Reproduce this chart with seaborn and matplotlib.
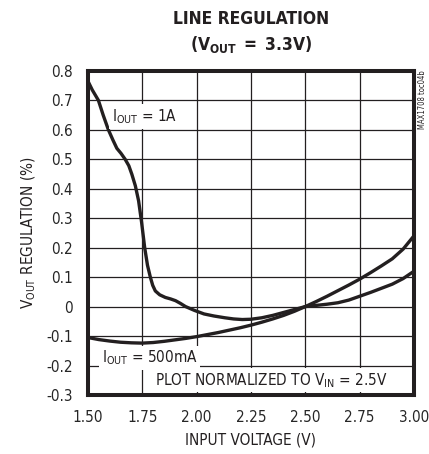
import pandas as pd
import seaborn as sns
import matplotlib.pyplot as plt

# input voltage (V) and output regulation (%)
vin_1a = [1.50, 1.52, 1.548, 1.57, 1.594, 1.615, 1.633, 1.652, 1.671, 1.688, 1.702,
          1.718, 1.733, 1.747, 1.761, 1.774, 1.787, 1.798, 1.81, 1.83, 1.856, 1.88,
          1.903, 1.925, 1.949, 1.99, 2.034, 2.08, 2.13, 2.17, 2.21, 2.25, 2.30,
          2.35, 2.40, 2.45, 2.50, 2.55, 2.60, 2.65, 2.70, 2.75, 2.80, 2.85, 2.90,
          2.95, 3.00]
reg_1a = [0.765, 0.735, 0.70, 0.65, 0.60, 0.565, 0.537, 0.52, 0.50, 0.478, 0.449,
          0.41, 0.359, 0.285, 0.20, 0.14, 0.10, 0.072, 0.053, 0.04, 0.031, 0.026,
          0.02, 0.011, 0.0, -0.013, -0.025, -0.032, -0.038, -0.042, -0.044, -0.043, -0.038,
          -0.03, -0.02, -0.01, 0.0, 0.017, 0.035, 0.054, 0.073, 0.093, 0.115, 0.138, 0.162,
          0.195, 0.24]

vin_500ma = [1.50, 1.55, 1.60, 1.65, 1.70, 1.75, 1.80, 1.85, 1.90, 1.95, 2.00,
             2.05, 2.10, 2.15, 2.20, 2.25, 2.30, 2.35, 2.40, 2.45, 2.50, 2.55,
             2.60, 2.65, 2.70, 2.75, 2.80, 2.85, 2.90, 2.95, 3.00]
reg_500ma = [-0.105, -0.112, -0.117, -0.121, -0.123, -0.124, -0.122, -0.118, -0.113, -0.108, -0.102,
             -0.095, -0.088, -0.080, -0.072, -0.063, -0.053, -0.042, -0.030, -0.016, 0.0, 0.004,
             0.008, 0.013, 0.022, 0.035, 0.048, 0.062, 0.076, 0.095, 0.12]

x_ticks = [1.50, 1.75, 2.00, 2.25, 2.50, 2.75, 3.00]
y_ticks = [0.8, 0.7, 0.6, 0.5, 0.4, 0.3, 0.2, 0.1, 0, -0.1, -0.2, -0.3]

df = pd.concat([
    pd.DataFrame({"vin": vin_1a, "reg": reg_1a, "load": "1A"}),
    pd.DataFrame({"vin": vin_500ma, "reg": reg_500ma, "load": "500mA"}),
])

sns.set_style("white")
plt.rcParams['font.family'] = ['DejaVu Sans']
plt.rcParams['font.stretch'] = 'condensed'
plt.rcParams['mathtext.fontset'] = 'dejavusans'

ink = "#231f20"
fig = plt.figure(figsize=(4.29, 4.54), dpi=100)
ax = fig.add_axes([0.205, 0.130, 0.76, 0.714])

sns.lineplot(data=df, x="vin", y="reg", units="load", estimator=None, sort=False,
             color=ink, linewidth=2.4, ax=ax, legend=False)

ax.set_xlim(1.5, 3.0)
ax.set_ylim(-0.3, 0.8)
ax.set_xticks(x_ticks)
ax.set_xticklabels([f"{t:.2f}" for t in x_ticks])
ax.set_yticks(y_ticks)
ax.set_yticklabels([f"{t:g}" for t in y_ticks])
ax.grid(True, color=ink, linewidth=0.9)
ax.tick_params(axis="y", length=0, labelsize=11, pad=11)
ax.tick_params(axis="x", length=0, labelsize=11, pad=11)
for s in ax.spines.values():
    s.set_linewidth(2.9)
    s.set_color(ink)
    s.set_zorder(5)

ax.set_xlabel("INPUT VOLTAGE (V)", fontsize=11, labelpad=5, color=ink)
ax.set_ylabel(r"$\mathregular{V_{OUT}}$ REGULATION (%)", fontsize=11, labelpad=6, color=ink)

fig.text(0.585, 0.958, "LINE REGULATION", ha="center", va="center",
         fontsize=12.5, fontweight="bold", color=ink)
fig.text(0.585, 0.901, r"$\mathbf{(V_{OUT}\ =\ 3.3V)}$", ha="center", va="center",
         fontsize=12.5, color=ink)
fig.text(0.986, 0.845, "MAX1708 toc04b", rotation=90, ha="center", va="top",
         fontsize=5.5, color=ink)

box = dict(facecolor="white", edgecolor="none", pad=2)
ax.text(1.61, 0.645, r"$\mathregular{I_{OUT}}$ = 1A", fontsize=11, va="center",
        bbox=box, zorder=4, color=ink)
ax.text(1.563, -0.175, r"$\mathregular{I_{OUT}}$ = 500mA", fontsize=11, va="center",
        bbox=box, zorder=4, color=ink)
ax.text(1.81, -0.25, r"PLOT NORMALIZED TO $\mathregular{V_{IN}}$ = 2.5V", fontsize=11,
        va="center", bbox=box, zorder=4, color=ink)

fig.savefig("out.png", dpi=100)
